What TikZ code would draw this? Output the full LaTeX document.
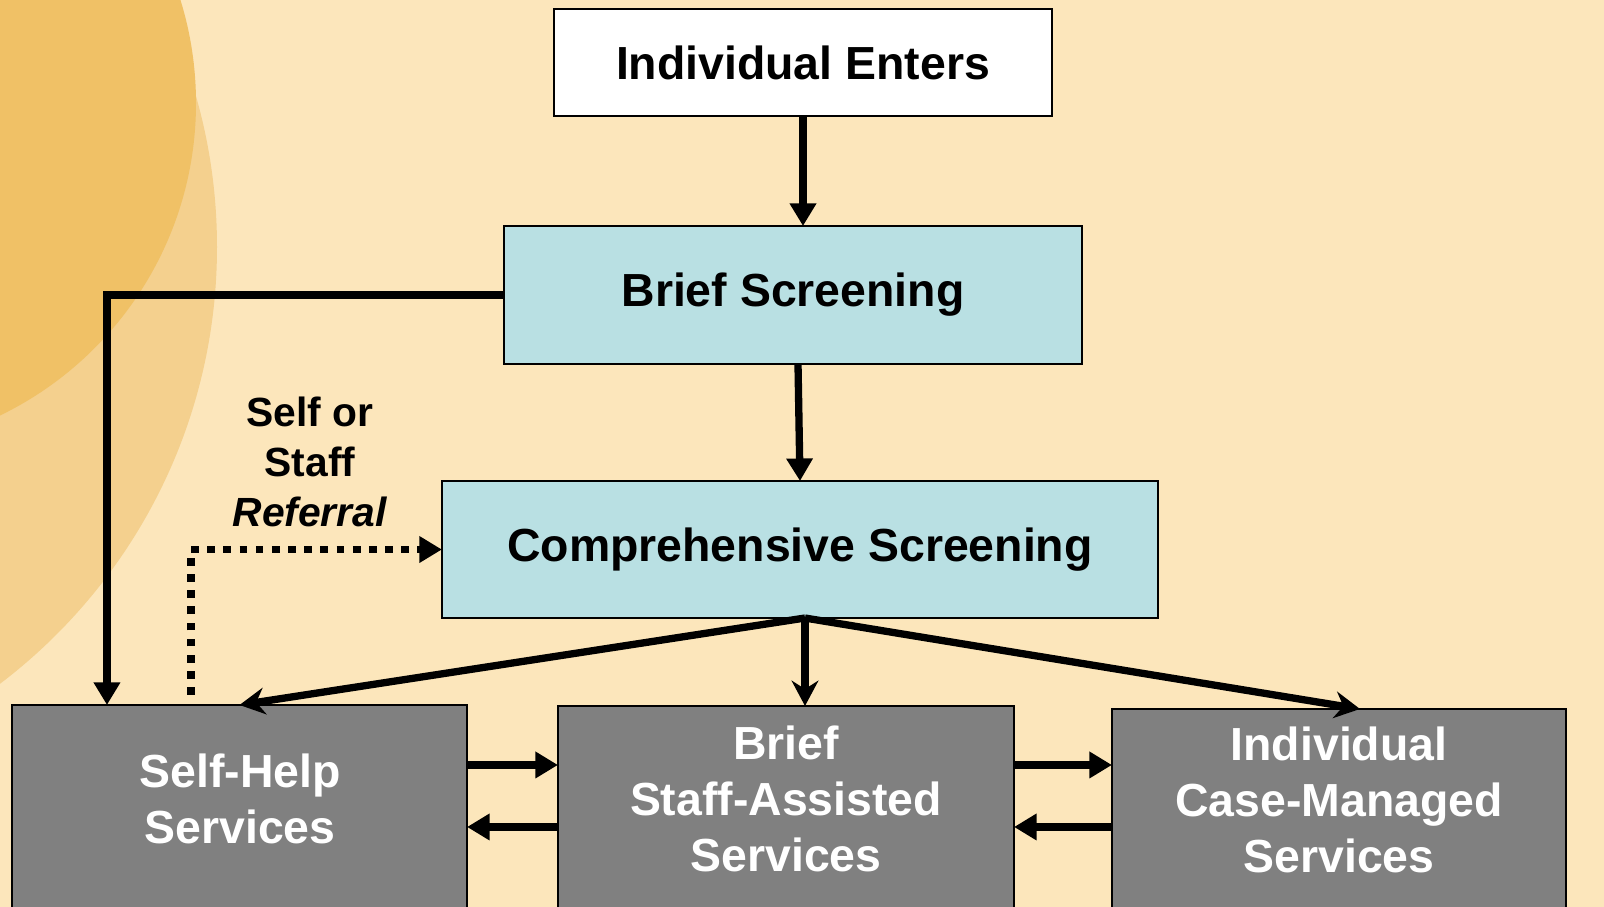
\documentclass[tikz,border=0pt]{standalone}
\usepackage{fontspec}
\setmainfont{Liberation Sans}
\usetikzlibrary{arrows.meta,calc}
\definecolor{peach}{RGB}{252,230,187}
\definecolor{sunouter}{RGB}{244,208,142}
\definecolor{suninner}{RGB}{240,193,102}
\definecolor{screen}{RGB}{185,224,227}
\definecolor{service}{RGB}{128,128,128}
\tikzset{
	box/.style={draw=black,line width=1.7pt,inner sep=0pt,outer sep=0pt,align=center,
			font=\bfseries\fontsize{33}{40}\selectfont},
	servtext/.style={text=white,align=center,font=\bfseries\fontsize{33}{40}\selectfont},
	flow/.style={line width=5.2pt,-{Triangle[length=16pt,width=18pt]}},
	fan/.style={line width=5.2pt,-{Stealth[length=18pt,width=19pt,inset=6pt]}}
}

\begin{document}
\begin{tikzpicture}[x=0.025cm,y=-0.025cm]
			\useasboundingbox (0,0) rectangle (1604,907);
			\clip (0,0) rectangle (1604,907);
			\fill[peach] (0,0) rectangle (1604,907);
			\fill[sunouter] (-331,247) circle [radius=548];
			\fill[suninner] (-151,103) circle [radius=347];
			\node[box,fill=white,minimum width=12.45cm,minimum height=2.675cm] (enters) at (803,62.5) {Individual Enters};
			\node[box,fill=screen,minimum width=14.45cm,minimum height=3.45cm] (brief) at (793,295) {Brief Screening};
			\node[box,fill=screen,minimum width=17.9cm,minimum height=3.425cm] (comp) at (800,549.5) {Comprehensive Screening};
			\node[box,fill=service,minimum width=11.375cm,minimum height=5.875cm] (self) at (239.5,822.5) {};
			\node[box,fill=service,minimum width=11.4cm,minimum height=5.85cm] (staff) at (786,823) {};
			\node[box,fill=service,minimum width=11.35cm,minimum height=5.775cm] (case) at (1339,824.5) {};
			\node[servtext] (selftxt) at (240,799) {Self-Help\\Services};
			\node[servtext] (stafftxt) at (786,799) {Brief\\Staff-Assisted\\Services};
			\node[servtext] (casetxt) at (1339,800) {Individual\\Case-Managed\\Services};
			\node[align=center,font=\bfseries\fontsize{29}{35.5}\selectfont] (referral) at (310,462) {Self or\\Staff\\\textit{Referral}};
			\draw[flow] (enters.south) -- (enters.south |- brief.north);
			\draw[flow] ([xshift=0.125cm]brief.south) -- (comp.north);
			\draw[flow] (brief.west) -| ([xshift=2.375cm]self.north west);
			\draw[flow,dash pattern=on 5.5pt off 6pt] ([xshift=4.475cm,yshift=0.25cm]self.north west) |- (comp.west);
			\draw[fan] ([xshift=0.125cm]comp.south) -- (self.north);
			\draw[fan] ([xshift=0.125cm]comp.south) -- ([xshift=0.125cm]comp.south |- staff.north);
			\draw[fan] ([xshift=0.125cm]comp.south) -- ([xshift=0.525cm]case.north);
			\coordinate (sh1) at ($(self.north east)+(0,60)$);
			\coordinate (sh2) at ($(self.north east)+(0,122)$);
			\coordinate (sc1) at ($(staff.north east)+(0,59)$);
			\coordinate (sc2) at ($(staff.north east)+(0,121)$);
			\draw[flow] (sh1) -- (sh1 -| staff.west);
			\draw[flow] (sh2 -| staff.west) -- (sh2);
			\draw[flow] (sc1) -- (sc1 -| case.west);
			\draw[flow] (sc2 -| case.west) -- (sc2);
		\end{tikzpicture}
\end{document}
